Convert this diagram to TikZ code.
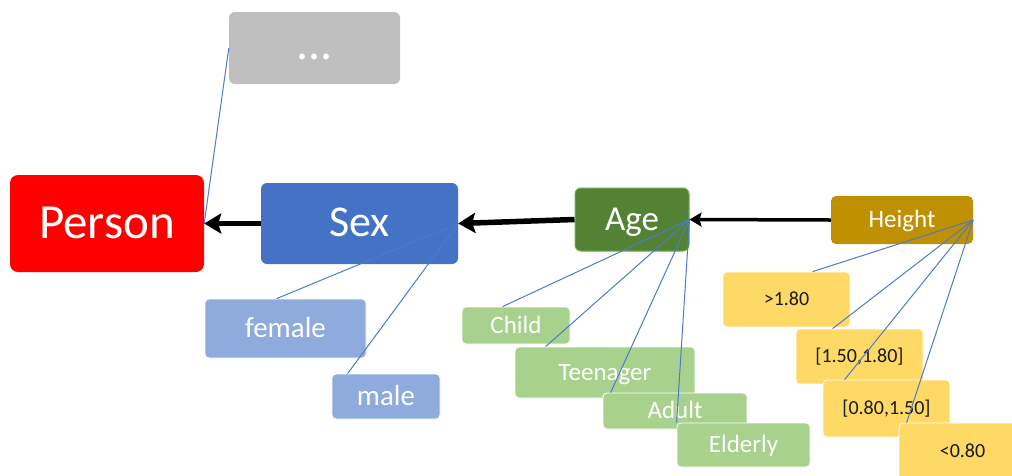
\documentclass[tikz,border=0pt]{standalone}
\usepackage{fontspec}
\setmainfont{Carlito}
\usetikzlibrary{arrows.meta}
\definecolor{cPerson}{HTML}{FF0000}
\definecolor{cGray}{HTML}{BFBFBF}
\definecolor{cSex}{HTML}{4472C4}
\definecolor{cAge}{HTML}{548235}
\definecolor{cAgeEdge}{HTML}{70AD47}
\definecolor{cHeight}{HTML}{BF9000}
\definecolor{cGender}{HTML}{8FAADC}
\definecolor{cGreen}{HTML}{A9D18E}
\definecolor{cYellow}{HTML}{FFD966}
\definecolor{cLine}{HTML}{4A7BD0}
\definecolor{cDark}{HTML}{1A1A1A}
\tikzset{
  box/.style={rectangle, rounded corners=6pt, inner sep=0pt, text=white, text depth=0pt},
  smallbox/.style={box, rounded corners=4pt, draw=white, line width=0.8pt},
  fPerson/.style={font=\fontsize{49}{49}\selectfont, text height=29.4pt},
  fSex/.style={font=\fontsize{44}{44}\selectfont, text height=26.4pt},
  fAge/.style={font=\fontsize{35}{35}\selectfont, text height=21pt},
  fDots/.style={font=\fontsize{48}{48}\selectfont, text height=23pt},
  fHeight/.style={font=\fontsize{25}{25}\selectfont, text height=15pt},
  fGender/.style={font=\fontsize{29}{29}\selectfont, text height=17.4pt},
  fGreen/.style={font=\fontsize{25}{25}\selectfont, text height=15pt},
  fYellow/.style={font=\fontsize{20}{20}\selectfont, text height=12pt, text=cDark},
  gender/.style={smallbox, fill=cGender, fGender},
  agecat/.style={smallbox, fill=cGreen, fGreen},
  hcat/.style={smallbox, fill=cYellow, fYellow, minimum width=127pt},
  link/.style={draw=cLine, line width=1pt},
  bigarrow/.style={draw=black, line width=5.5pt, -{Stealth[length=17pt,width=20pt,inset=3pt]}},
  smallarrow/.style={draw=black, line width=3.5pt, -{Stealth[length=12pt,width=14pt,inset=2pt]}}
}
\begin{document}
\begin{tikzpicture}[x=1pt,y=-1pt]
\useasboundingbox (0,0) rectangle (1012,475);
\clip (0,0) rectangle (1012,475);

% main boxes
\node[box, fill=cGray, fDots, minimum width=171pt, minimum height=72pt] (dots) at (314.5,48) {...};
\node[box, fill=cPerson, fPerson, rounded corners=8pt, minimum width=194pt, minimum height=97pt] (person) at (107,223.5) {Person};
\node[box, fill=cSex, fSex, minimum width=197pt, minimum height=81pt] (sex) at (359.5,223.5) {Sex};
\node[box, fill=cAge, draw=cAgeEdge, line width=1pt, fAge, minimum width=114pt, minimum height=63pt] (age) at (632,219.5) {Age};
\node[box, fill=cHeight, fHeight, rounded corners=5pt, minimum width=142pt, minimum height=48pt] (height) at (902,220) {Height};

% sex categories
\node[gender, minimum width=161pt, minimum height=59pt] (female) at (285.5,328.5) {female};
\node[gender, minimum width=108pt, minimum height=45pt] (male) at (386,396.5) {male};

% age categories
\node[agecat, minimum width=108pt, minimum height=37pt] (child) at (516,325.5) {Child};
\node[agecat, minimum width=180pt, minimum height=51pt] (teen) at (605,372.5) {Teenager};
\node[agecat, minimum width=144pt, minimum height=36pt] (adult) at (675,411) {Adult};
\node[agecat, minimum width=133pt, minimum height=44pt] (elderly) at (743.5,445) {Elderly};

% height categories
\node[hcat, minimum height=55pt] (h1) at (786.5,299.5) {>1.80};
\node[hcat, minimum height=55pt] (h2) at (859.5,356.5) {[1.50,1.80]};
\node[hcat, minimum height=57pt] (h3) at (886.5,408.5) {[0.80,1.50]};
\node[hcat, minimum height=57pt] (h4) at (962.5,451.5) {<0.80};

% thin links
\draw[link] (person.east) -- (dots.west);
\draw[link] (sex.east) -- ([xshift=72]female.north west);
\draw[link] (sex.east) -- ([xshift=16]male.north west);
\draw[link] (age.east) -- ([xshift=41]child.north west);
\draw[link] (age.east) -- ([xshift=31]teen.north west);
\draw[link] (age.east) -- ([xshift=8]adult.north west);
\draw[link] (age.east) -- (elderly.north west);
\draw[link] (height.east) -- ([xshift=90]h1.north west);
\draw[link] (height.east) -- ([xshift=37]h2.north west);
\draw[link] (height.east) -- ([xshift=22]h3.north west);
\draw[link] (height.east) -- ([xshift=8]h4.north west);

% arrows
\draw[bigarrow] (sex.west) -- (person.east);
\draw[bigarrow] (age.west) -- (sex.east);
\draw[smallarrow] (height.west) -- (age.east);
\end{tikzpicture}
\end{document}
